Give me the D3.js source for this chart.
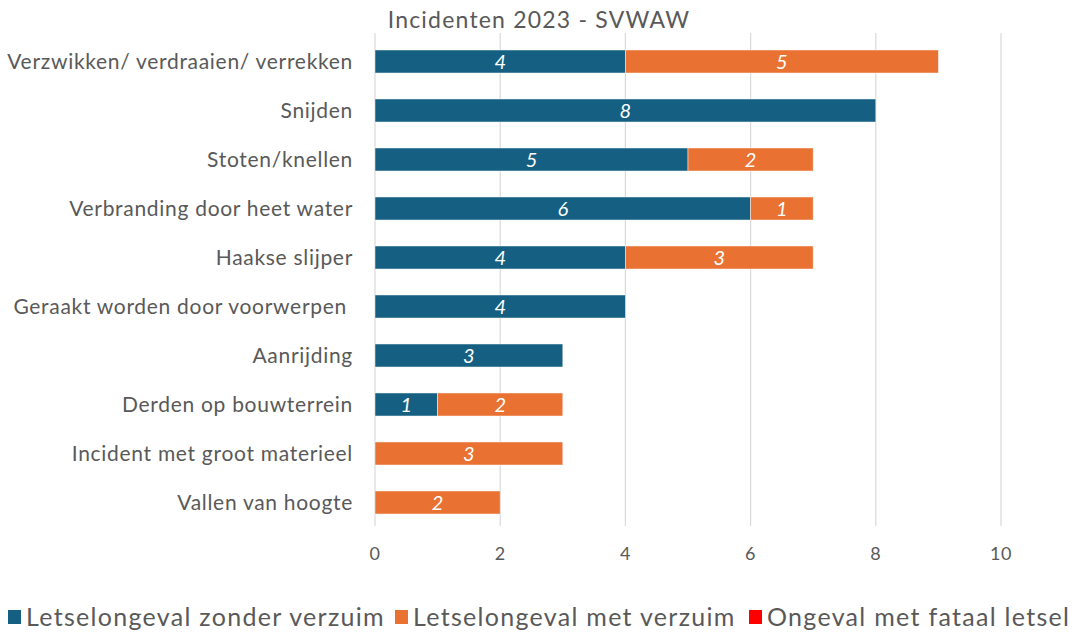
<!DOCTYPE html>
<html>
<head>
<meta charset="utf-8">
<script src="https://cdn.jsdelivr.net/npm/d3@7"></script>
<style>
  body { margin: 0; background: #fff; }
  text { font-family: Lato, "Open Sans", sans-serif; }
</style>
</head>
<body>
<script>
const categories = [
  "Verzwikken/ verdraaien/ verrekken",
  "Snijden",
  "Stoten/knellen",
  "Verbranding door heet water",
  "Haakse slijper",
  "Geraakt worden door voorwerpen ",
  "Aanrijding",
  "Derden op bouwterrein",
  "Incident met groot materieel",
  "Vallen van hoogte"
];
const zonderVerzuim = [4, 8, 5, 6, 4, 4, 3, 1, 0, 0];
const metVerzuim = [5, 0, 2, 1, 3, 0, 0, 2, 3, 2];
const fataal = [0, 0, 0, 0, 0, 0, 0, 0, 0, 0];
const seriesNames = ["Letselongeval zonder verzuim", "Letselongeval met verzuim", "Ongeval met fataal letsel"];
const colors = ["#156082", "#E97132", "#FF0000"];
const xTicks = [0, 2, 4, 6, 8, 10];

const width = 1075;
const height = 634;

const svg = d3.select("body").append("svg")
  .attr("width", width)
  .attr("height", height);

const x = d3.scaleLinear().domain([0, 10]).range([375, 1001]);
const y = d3.scaleBand().domain(categories).range([37, 527]).paddingInner(0.53).paddingOuter(0.265);

const rows = categories.map((c, i) => ({ cat: c, s0: zonderVerzuim[i], s1: metVerzuim[i], s2: fataal[i] }));
const stack = d3.stack().keys(["s0", "s1", "s2"])(rows);

// gridlines
svg.append("g")
  .selectAll("line")
  .data(xTicks)
  .enter()
  .append("line")
  .attr("x1", (d) => x(d))
  .attr("x2", (d) => x(d))
  .attr("y1", 33)
  .attr("y2", 526)
  .attr("stroke", "#d9d9d9")
  .attr("stroke-width", 1.2);

// title
svg.append("text")
  .attr("x", 539)
  .attr("y", 28)
  .attr("text-anchor", "middle")
  .attr("font-size", 23)
  .attr("letter-spacing", 1.2)
  .attr("fill", "#595959")
  .text("Incidenten 2023 - SVWAW");

// bars
stack.forEach((layer, si) => {
  svg.append("g")
    .selectAll("rect")
    .data(layer.filter((d) => d[1] - d[0] > 0))
    .enter()
    .append("rect")
    .attr("x", (d) => x(d[0]))
    .attr("y", (d) => y(d.data.cat))
    .attr("width", (d) => x(d[1]) - x(d[0]))
    .attr("height", y.bandwidth())
    .attr("fill", colors[si])
    .attr("stroke", "#ffffff")
    .attr("stroke-opacity", 0.6)
    .attr("stroke-width", 0.8);

  svg.append("g")
    .selectAll("text")
    .data(layer.filter((d) => d[1] - d[0] > 0))
    .enter()
    .append("text")
    .attr("x", (d) => (x(d[0]) + x(d[1])) / 2)
    .attr("y", (d) => y(d.data.cat) + y.bandwidth() / 2)
    .attr("dy", "0.36em")
    .attr("text-anchor", "middle")
    .attr("font-size", 20)
    .attr("font-style", "italic")
    .attr("fill", "#ffffff")
    .text((d) => d[1] - d[0]);
});

// category labels
svg.append("g")
  .selectAll("text")
  .data(categories)
  .enter()
  .append("text")
  .attr("x", 353)
  .attr("y", (d) => y(d) + y.bandwidth() / 2)
  .attr("dy", "0.36em")
  .attr("text-anchor", "end")
  .attr("font-size", 21)
  .attr("letter-spacing", 0.7)
  .attr("fill", "#595959")
  .style("white-space", "pre")
  .text((d) => d);

// x tick labels
svg.append("g")
  .selectAll("text")
  .data(xTicks)
  .enter()
  .append("text")
  .attr("x", (d) => x(d))
  .attr("y", 560)
  .attr("text-anchor", "middle")
  .attr("font-size", 18)
  .attr("letter-spacing", 0.5)
  .attr("fill", "#595959")
  .text((d) => d);

// legend
const legendX = [8, 395, 749];
const legend = svg.append("g")
  .selectAll("g")
  .data(seriesNames)
  .enter()
  .append("g")
  .attr("transform", (d, i) => `translate(${legendX[i]},617)`);

legend.append("rect")
  .attr("x", 0)
  .attr("y", -7)
  .attr("width", 13)
  .attr("height", 14)
  .attr("fill", (d, i) => colors[i]);

legend.append("text")
  .attr("x", 18)
  .attr("y", 0)
  .attr("dy", "0.36em")
  .attr("font-size", 25)
  .attr("letter-spacing", 1.3)
  .attr("fill", "#595959")
  .text((d) => d);
</script>
</body>
</html>
